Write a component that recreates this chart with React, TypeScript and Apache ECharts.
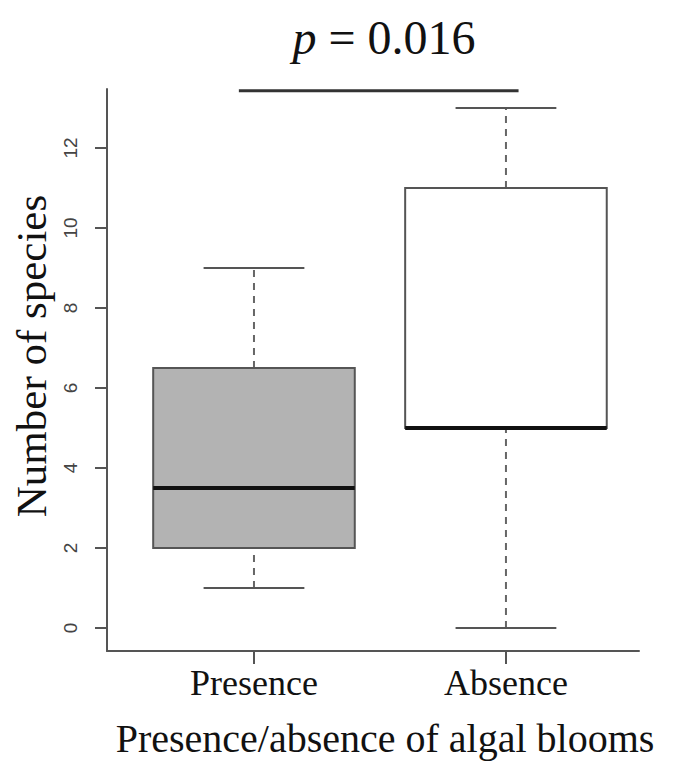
import React, { useEffect, useRef } from "react";
import * as echarts from "echarts";

// ---- Data ----
const categories = ["Presence", "Absence"];
const lowerWhisker = [1, 0];
const q1 = [2, 5];
const median = [3.5, 5];
const q3 = [6.5, 11];
const upperWhisker = [9, 13];
const yTicks = [0, 2, 4, 6, 8, 10, 12];
const sigBarX = [0.94, 2.05];
const sigBarY = 13.43;
const pValueText = "0.016";

const boxFills = ["#B3B3B3", "#FFFFFF"];

export default function App() {
  const ref = useRef<HTMLDivElement>(null);

  useEffect(() => {
    if (!ref.current) return;
    const chart = echarts.init(ref.current, null, { renderer: "svg" });

    const boxData = categories.map((_, i) => [
      i + 1,
      lowerWhisker[i],
      q1[i],
      median[i],
      q3[i],
      upperWhisker[i],
      i,
    ]);

    const serif = "'Liberation Serif', 'Times New Roman', serif";
    const sans = "'Liberation Sans', Arial, sans-serif";
    const axisColor = "#555555";

    const option: any = {
      animation: false,
      backgroundColor: "#ffffff",
      title: {
        text: "{i|p}{n| = " + pValueText + "}",
        left: 379,
        textAlign: "center",
        top: 8,
        textStyle: {
          fontFamily: serif,
          fontSize: 48,
          fontWeight: "normal",
          color: "#111",
          rich: {
            i: {
              fontFamily: serif,
              fontSize: 48,
              fontStyle: "italic",
              color: "#111",
            },
            n: {
              fontFamily: serif,
              fontSize: 48,
              color: "#111",
            },
          },
        },
      },
      grid: { left: 107, right: 52, top: 89, bottom: 113, containLabel: false },
      xAxis: {
        type: "value",
        min: 0.4167,
        max: 2.528,
        splitLine: { show: false },
        axisLine: { show: true, onZero: false, lineStyle: { color: axisColor, width: 2 } },
        axisTick: {
          show: true,
          customValues: [1, 2],
          length: 13,
          lineStyle: { color: axisColor, width: 2 },
        },
        axisLabel: {
          customValues: [1, 2],
          formatter: (v: number) => categories[Math.round(v) - 1] ?? "",
          fontFamily: serif,
          fontSize: 36,
          color: "#111",
          margin: 14,
        },
        name: "Presence/absence of algal blooms",
        nameLocation: "middle",
        nameGap: 67,
        nameTextStyle: {
          fontFamily: serif,
          fontSize: 40,
          color: "#111",
          padding: [0, 0, 0, 24],
        },
      },
      yAxis: {
        type: "value",
        min: -0.575,
        max: 13.475,
        splitLine: { show: false },
        axisLine: { show: true, onZero: false, lineStyle: { color: axisColor, width: 2 } },
        axisTick: {
          show: true,
          customValues: yTicks,
          length: 12,
          lineStyle: { color: axisColor, width: 2 },
        },
        axisLabel: {
          customValues: yTicks,
          rotate: 90,
          fontFamily: sans,
          fontSize: 19,
          color: "#444",
          margin: 27,
        },
        name: "Number of species",
        nameLocation: "middle",
        nameGap: 54,
        nameTextStyle: {
          fontFamily: serif,
          fontSize: 43,
          color: "#111",
          padding: [0, 0, 0, 28],
        },
      },
      series: [
        {
          type: "custom",
          data: boxData,
          encode: { x: 0, y: [1, 2, 3, 4, 5] },
          renderItem: (params: any, api: any) => {
            const x = api.value(0);
            const lo = api.value(1);
            const b1 = api.value(2);
            const md = api.value(3);
            const b3 = api.value(4);
            const hi = api.value(5);
            const idx = api.value(6);
            const halfBox = 0.4;
            const halfCap = 0.2;
            const pLoL = api.coord([x - halfCap, lo]);
            const pLoR = api.coord([x + halfCap, lo]);
            const pHiL = api.coord([x - halfCap, hi]);
            const pHiR = api.coord([x + halfCap, hi]);
            const pLo = api.coord([x, lo]);
            const pHi = api.coord([x, hi]);
            const pQ1 = api.coord([x, b1]);
            const pQ3 = api.coord([x, b3]);
            const boxTL = api.coord([x - halfBox, b3]);
            const boxBR = api.coord([x + halfBox, b1]);
            const mL = api.coord([x - halfBox, md]);
            const mR = api.coord([x + halfBox, md]);
            const whiskerStyle = {
              stroke: "#666",
              lineWidth: 2,
              lineDash: [7, 6],
            };
            const capStyle = { stroke: "#555", lineWidth: 2 };
            return {
              type: "group",
              children: [
                {
                  type: "line",
                  shape: { x1: pLo[0], y1: pLo[1], x2: pQ1[0], y2: pQ1[1] },
                  style: whiskerStyle,
                },
                {
                  type: "line",
                  shape: { x1: pQ3[0], y1: pQ3[1], x2: pHi[0], y2: pHi[1] },
                  style: whiskerStyle,
                },
                {
                  type: "line",
                  shape: { x1: pLoL[0], y1: pLoL[1], x2: pLoR[0], y2: pLoR[1] },
                  style: capStyle,
                },
                {
                  type: "line",
                  shape: { x1: pHiL[0], y1: pHiL[1], x2: pHiR[0], y2: pHiR[1] },
                  style: capStyle,
                },
                {
                  type: "rect",
                  shape: {
                    x: boxTL[0],
                    y: boxTL[1],
                    width: boxBR[0] - boxTL[0],
                    height: boxBR[1] - boxTL[1],
                  },
                  style: {
                    fill: boxFills[idx],
                    stroke: "#555",
                    lineWidth: 2,
                  },
                },
                {
                  type: "line",
                  shape: { x1: mL[0], y1: mL[1], x2: mR[0], y2: mR[1] },
                  style: { stroke: "#111", lineWidth: 4 },
                },
              ],
            };
          },
          z: 2,
        },
        {
          type: "line",
          data: sigBarX.map((x) => [x, sigBarY]),
          symbol: "none",
          lineStyle: { color: "#333", width: 3 },
          z: 3,
        },
      ],
    };

    chart.setOption(option);
    return () => chart.dispose();
  }, []);

  return (
    <div
      ref={ref}
      style={{ position: "fixed", left: 0, top: 0, width: 691, height: 764 }}
    />
  );
}
